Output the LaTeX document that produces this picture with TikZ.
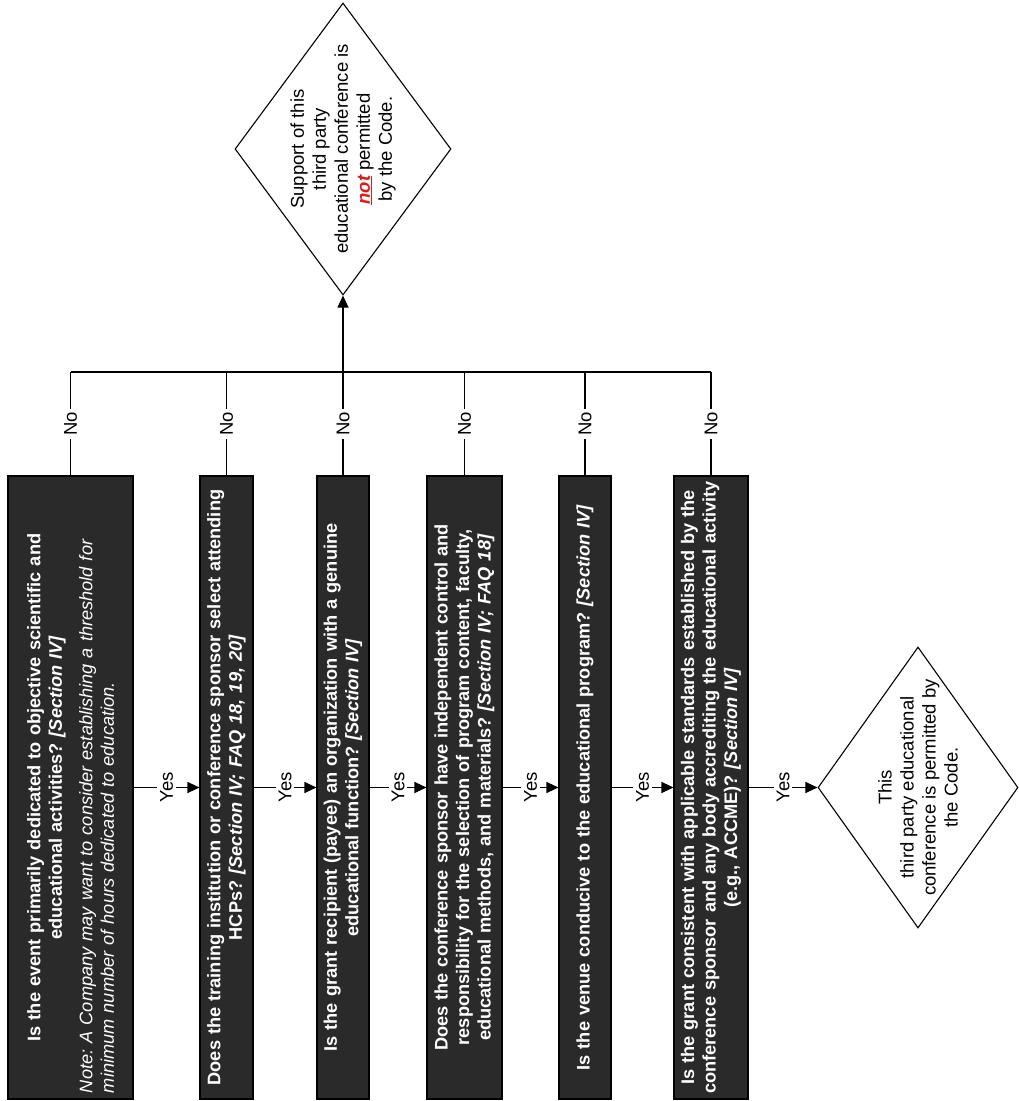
\documentclass[tikz,border=0pt]{standalone}
\usepackage{fontspec}
\usepackage{xcolor}
\usepackage{tikz}
\usetikzlibrary{shapes.geometric, arrows.meta, positioning, calc}
\newfontfamily\qfont{Liberation Sans}
\definecolor{boxDark}{RGB}{42, 42, 42}
\definecolor{codeRed}{RGB}{225, 25, 25}
\newcommand{\qpar}{\par}
\hyphenpenalty=10000
\frenchspacing

\begin{document}
\begin{tikzpicture}[x=1pt, y=1pt, line width=1.1pt,
    qbox/.style={draw=black, fill=boxDark, minimum height=623pt, inner sep=0pt},
    qtext/.style={rotate=90, text=white, text width=660pt, align=center, inner sep=0pt, font=\qfont\fontsize{18.2}{21.5}\selectfont\bfseries},
    outcome/.style={draw=black, diamond, inner sep=0pt},
    otext/.style={rotate=90, align=center, inner sep=0pt, font=\qfont\fontsize{18.5}{22}\selectfont},
    ansr/.style={rotate=90, fill=white, inner sep=3pt, font=\qfont\fontsize{18.5}{22}\selectfont},
    flow/.style={-{Triangle[length=12pt, width=11pt]}}]
    \useasboundingbox (0,0) rectangle (1019,-1101);

    % question boxes
    \node[qbox, minimum width=125pt, label={[qtext, text width=611pt]center:{Is the event primarily dedicated to objective scientific and\\ educational activities? \textit{[Section IV]}\qpar\vspace{9pt}{\raggedright\mdseries\itshape Note: A Company may want to consider establishing a threshold for\\ minimum number of hours dedicated to education.\qpar}}}] (b1) at (70.5,-787.5) {};
    \node[qbox, minimum width=53pt, label={[qtext]center:{Does the training institution or conference sponsor select attending\\ HCPs? \textit{[Section IV; FAQ 18, 19, 20]}}}] (b2) at (226.5,-787.5) {};
    \node[qbox, minimum width=52pt, label={[qtext]center:{Is the grant recipient (payee) an organization with a genuine\\ educational function? \textit{[Section IV]}}}] (b3) at (343,-787.5) {};
    \node[qbox, minimum width=75pt, label={[qtext]center:{Does the conference sponsor have independent control and\\ responsibility for the selection of program content, faculty,\\ educational methods, and materials? \textit{[Section IV; FAQ 18]}}}] (b4) at (464.5,-787.5) {};
    \node[qbox, minimum width=52pt, label={[qtext]center:{Is the venue conducive to the educational program? \textit{[Section IV]}}}] (b5) at (585,-787.5) {};
    \node[qbox, minimum width=74pt, label={[qtext]center:{Is the grant consistent with applicable standards established by the\\ conference sponsor and any body accrediting the educational activity\\ (e.g., ACCME)? \textit{[Section IV]}}}] (b6) at (711,-787.5) {};

    % outcomes
    \node[outcome, minimum width=216pt, minimum height=292pt, label={[otext]center:{Support of this\\ third party\\ educational conference is\\ \textcolor{codeRed}{\textbf{\textit{\underline{not}}}} permitted\\ by the Code.}}] (deny) at (343,-149) {};
    \node[outcome, minimum width=200pt, minimum height=281pt, label={[otext]center:{This\\ third party educational\\ conference is permitted by\\ the Code.}}] (permit) at (918,-787.5) {};

    % yes path
    \draw[flow] (b1) -- node[ansr]{Yes} (b2);
    \draw[flow] (b2) -- node[ansr]{Yes} (b3);
    \draw[flow] (b3) -- node[ansr]{Yes} (b4);
    \draw[flow] (b4) -- node[ansr]{Yes} (b5);
    \draw[flow] (b5) -- node[ansr]{Yes} (b6);
    \draw[flow] (b6) -- node[ansr]{Yes} (permit);

    % no path
    \coordinate (bus) at (343,-372);
    \draw (b1.north) -- node[ansr]{No} (b1.north |- bus);
    \draw (b2.north) -- node[ansr]{No} (b2.north |- bus);
    \draw (b3.north) -- node[ansr]{No} (bus);
    \draw (b4.north) -- node[ansr]{No} (b4.north |- bus);
    \draw (b5.north) -- node[ansr]{No} (b5.north |- bus);
    \draw (b6.north) -- node[ansr]{No} (b6.north |- bus);
    \draw (b1.north |- bus) -- (b6.north |- bus);
    \draw[flow] (bus) -- (deny);
\end{tikzpicture}
\end{document}
